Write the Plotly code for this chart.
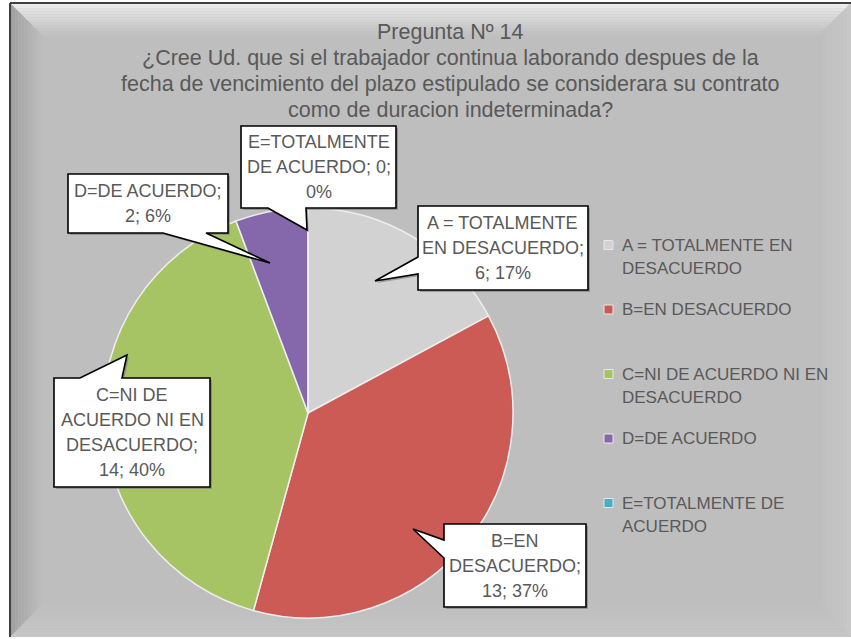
import textwrap
import plotly.graph_objects as go

W, H = 851, 639

# ---------------- data ----------------
categories = [
    "A = TOTALMENTE EN DESACUERDO",
    "B=EN DESACUERDO",
    "C=NI DE ACUERDO NI EN DESACUERDO",
    "D=DE ACUERDO",
    "E=TOTALMENTE DE ACUERDO",
]
values = [6, 13, 14, 2, 0]
colors = ["#d2d2d2", "#cc5a55", "#a6c464", "#8568ac", "#4bacc6"]
title_lines = [
    "Pregunta Nº 14",
    "¿Cree Ud. que si el trabajador continua laborando despues de la",
    "fecha de vencimiento del plazo estipulado se considerara su contrato",
    "como de duracion indeterminada?",
]

# ---------------- layout helpers (pixel -> paper) ----------------
def fx(x):
    return x / W


def fy(y):
    return 1 - y / H


TXT = "#595959"
FONT = "Liberation Sans, Arial, sans-serif"

# callout geometry (label placement, in pixels)
callouts = [
    dict(box=(418, 206, 588, 290), side="left", base=(257, 274), tip=(375, 281)),
    dict(box=(444, 524, 586, 607), side="left", base=(540, 558), tip=(413, 529)),
    dict(box=(54, 378, 210, 487), side="top", base=(80, 122), tip=(127, 355)),
    dict(box=(68, 174, 228, 233), side="bottom", base=(163, 206), tip=(270, 263)),
    dict(box=(241, 126, 396, 208), side="bottom", base=(268, 306), tip=(307, 230)),
]

pie_cx, pie_cy, pie_r = 308, 413, 205

fig = go.Figure()
fig.add_trace(
    go.Pie(
        labels=categories,
        values=values,
        sort=False,
        direction="clockwise",
        rotation=0,
        textinfo="none",
        hoverinfo="label+value+percent",
        marker=dict(colors=colors, line=dict(color="#eeeeee", width=1.5)),
        domain=dict(
            x=[fx(pie_cx - pie_r), fx(pie_cx + pie_r)],
            y=[fy(pie_cy + pie_r), fy(pie_cy - pie_r)],
        ),
        showlegend=False,
    )
)

shapes = []
annotations = []


def poly(pts, fill, line_color=None, line_width=0, layer="below", opacity=1.0):
    d = "M " + " L ".join(f"{fx(x):.5f},{fy(y):.5f}" for x, y in pts) + " Z"
    return dict(
        type="path",
        xref="paper",
        yref="paper",
        path=d,
        fillcolor=fill,
        line=dict(color=line_color or fill, width=line_width),
        layer=layer,
        opacity=opacity,
    )


def mix(c1, c2, t):
    a = [int(c1[i:i + 2], 16) for i in (1, 3, 5)]
    b = [int(c2[i:i + 2], 16) for i in (1, 3, 5)]
    return "#" + "".join(f"{round(a[k] + (b[k] - a[k]) * t):02x}" for k in range(3))


# background panel
L, T, R, B = 10, 3, 851, 637
BG = "#bebebe"
shapes.append(poly([(L, T), (R, T), (R, B), (L, B)], BG))
# bevel bands
n = 12
depth = 34
for i in range(n):
    d0 = depth * i / n
    d1 = depth * (i + 1) / n
    t = (i + 0.5) / n
    # top (light)
    shapes.append(poly([(L + d0, T + d0), (R - d0, T + d0), (R - d1, T + d1), (L + d1, T + d1)],
                       mix("#f6f6f6", BG, t ** 0.7)))
    # left (dark)
    shapes.append(poly([(L + d0, T + d0), (L + d1, T + d1), (L + d1, B - d1), (L + d0, B - d0)],
                       mix("#9c9c9c", BG, t ** 0.8)))
    # right (slightly light)
    shapes.append(poly([(R - d0, T + d0), (R - d0, B - d0), (R - d1, B - d1), (R - d1, T + d1)],
                       mix("#c8c8c8", BG, t)))
    # bottom (slightly light)
    shapes.append(poly([(L + d0, B - d0), (R - d0, B - d0), (R - d1, B - d1), (L + d1, B - d1)],
                       mix("#c6c6c6", BG, t)))
# frame lines
shapes.append(dict(type="line", xref="paper", yref="paper", x0=fx(L), x1=fx(L), y0=fy(T), y1=fy(B),
                   line=dict(color="#404040", width=2), layer="below"))
shapes.append(dict(type="line", xref="paper", yref="paper", x0=fx(L), x1=fx(R), y0=fy(T), y1=fy(T),
                   line=dict(color="#404040", width=2), layer="below"))

# title
for i, line in enumerate(title_lines):
    annotations.append(dict(x=fx(450), y=fy(32 + 26 * i), xref="paper", yref="paper", text=line,
                            showarrow=False, xanchor="center", yanchor="middle",
                            font=dict(family=FONT, size=21.5, color=TXT)))

# callouts
total = sum(values)
for i, (cat, v) in enumerate(zip(categories, values)):
    c = callouts[i]
    x0, y0, x1, y1 = c["box"]
    b0, b1 = c["base"]
    tx, ty = c["tip"]
    if c["side"] == "left":
        pts = [(x0, y0), (x1, y0), (x1, y1), (x0, y1), (x0, b1), (tx, ty), (x0, b0)]
    elif c["side"] == "top":
        pts = [(x0, y0), (b0, y0), (tx, ty), (b1, y0), (x1, y0), (x1, y1), (x0, y1)]
    else:
        pts = [(x0, y0), (x1, y0), (x1, y1), (b1, y1), (tx, ty), (b0, y1), (x0, y1)]
    shadow = [(x + 2, y + 2) for x, y in pts]
    shapes.append(poly(shadow, "#7a7a7a", layer="above", opacity=0.6))
    shapes.append(poly(pts, "#ffffff", line_color="#000000", line_width=1.6, layer="above"))
    pct = round(100 * v / total)
    text = f"{cat}; {v}; {pct}%"
    lines = textwrap.wrap(text, width=14)
    cy = (y0 + y1) / 2
    sp = 25
    for k, ln in enumerate(lines):
        yy = cy + (k - (len(lines) - 1) / 2) * sp
        annotations.append(dict(x=fx((x0 + x1) / 2), y=fy(yy), xref="paper", yref="paper", text=ln,
                                showarrow=False, xanchor="center", yanchor="middle",
                                font=dict(family=FONT, size=18, color=TXT)))

# legend (manual)
leg_x_marker = 604
leg_x_text = 620
leg_y0 = 245
leg_step = 64.5
leg_line = 23
for i, (cat, col) in enumerate(zip(categories, colors)):
    yy = leg_y0 + leg_step * i
    shapes.append(poly([(leg_x_marker, yy - 4.5), (leg_x_marker + 9, yy - 4.5),
                        (leg_x_marker + 9, yy + 4.5), (leg_x_marker, yy + 4.5)],
                       col, line_color="#e8e8e8", line_width=1, layer="above"))
    for k, ln in enumerate(textwrap.wrap(cat, width=21)):
        annotations.append(dict(x=fx(leg_x_text), y=fy(yy + k * leg_line), xref="paper", yref="paper",
                                text=ln, showarrow=False, xanchor="left", yanchor="middle",
                                font=dict(family=FONT, size=17, color=TXT)))

fig.update_layout(
    width=W,
    height=H,
    margin=dict(l=0, r=0, t=0, b=0),
    paper_bgcolor="#ffffff",
    plot_bgcolor="rgba(0,0,0,0)",
    shapes=shapes,
    annotations=annotations,
    showlegend=False,
)

fig.write_html(
    "out.html",
    config={"displayModeBar": False},
    post_script="document.body.style.margin='0';document.body.style.overflow='hidden';",
)
